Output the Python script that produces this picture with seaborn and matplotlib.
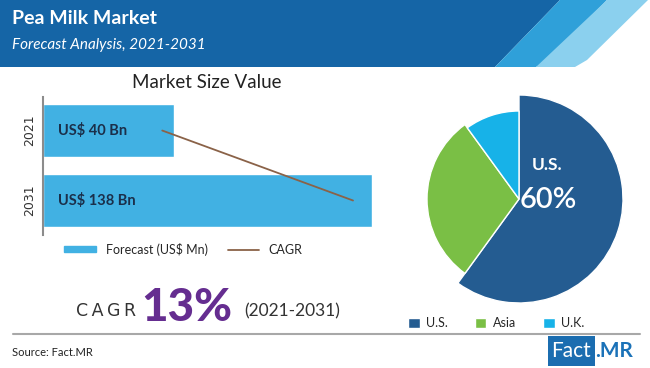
import numpy as np
import pandas as pd
import seaborn as sns
import matplotlib.pyplot as plt
from matplotlib.patches import Polygon, Rectangle, Patch
from matplotlib.lines import Line2D

sns.set_theme(style="white")
plt.rcParams['font.family'] = ['Lato', 'DejaVu Sans']

# data
years = ['2021', '2031']
bar_len = [55, 138]            # drawn bar length (US$ Bn scale of the 2031 bar)
bar_labels = ['US$ 40 Bn', 'US$ 138 Bn']
cagr_x = [50, 130]
regions = ['U.S.', 'Asia', 'U.K.']
shares = [60, 30, 10]
region_radius = [104, 92, 88]

bar_blue = '#41b1e3'
cagr_brown = '#8a6248'
pie_colors = ['#245c91', '#7abf45', '#17b2e8']

W, H = 650, 368
fig = plt.figure(figsize=(6.5, 3.68), dpi=100)

# background / decoration layer in pixel coords
bg = fig.add_axes([0, 0, 1, 1])
bg.set_xlim(0, W)
bg.set_ylim(H, 0)
bg.axis('off')
bg.add_patch(Polygon([(0, 0), (560, 0), (495, 67), (0, 67)], color='#1565a6', lw=0))
bg.add_patch(Polygon([(560, 0), (607, 0), (548, 60), (536, 67), (495, 67)], color='#2fa0d9', lw=0))
bg.add_patch(Polygon([(607, 0), (648, 0), (587, 60), (575, 67), (536, 67)], color='#8bd0ee', lw=0))
bg.text(12, 18, 'Pea Milk Market', color='white', fontsize=14, fontweight='bold', va='center')
bg.text(12, 45, 'Forecast Analysis, 2021-2031', color='white', fontsize=11, style='italic', va='center')
bg.text(207, 83, 'Market Size Value', color='#222222', fontsize=13.5, ha='center', va='center')

bg.text(76, 311, 'C\u2009A\u2009G\u2009R', color='#333333', fontsize=12.5, va='center',
        family=['DejaVu Sans'])
bg.text(187, 308, '13%', color='#652d90', fontsize=33, fontweight='black', va='center',
        ha='center')
bg.text(244, 311, '(2021-2031)', color='#333333', fontsize=12.5, va='center')
bg.plot([13, 640], [334, 334], color='#a8a8a8', lw=1.5)
bg.text(12, 352, 'Source: Fact.MR', color='#222222', fontsize=8, va='center')
bg.add_patch(Rectangle((548, 336), 47, 30, color='#1b6db0', lw=0))
bg.text(571, 351, 'Fact', color='white', fontsize=15, ha='center', va='center')
bg.text(595, 351, '.MR', color='#1b72b8', fontsize=15, fontweight='bold', va='center')

# bar chart
ax = fig.add_axes([43 / W, 1 - 235 / H, 347 / W, 138 / H])
df = pd.DataFrame({'year': years, 'value': bar_len})
sns.barplot(data=df, x='value', y='year', orient='h', color=bar_blue, saturation=1,
            width=0.757, ax=ax)
ax.plot(cagr_x, [0, 1], color=cagr_brown, lw=1.3)
ax.set_xlim(0, 145.5)
ax.set_ylim(1.493, -0.479)
for i, lab in enumerate(bar_labels):
    ax.text(6.3, i, lab, color='#1b2f4a', fontsize=10.5, fontweight='bold', va='center')
ax.set_xlabel('')
ax.set_ylabel('')
ax.set_xticks([])
ax.set_yticks([0, 1])
ax.set_yticklabels(years, rotation=90, va='center', fontsize=9, color='#333333',
                   family=['DejaVu Sans'])
ax.tick_params(axis='y', length=0, pad=5)
ax.set_facecolor('none')
for s in ['top', 'right', 'bottom']:
    ax.spines[s].set_visible(False)
ax.spines['left'].set_color('#8c8c8c')
ax.spines['left'].set_linewidth(1.5)
handles = [Patch(color=bar_blue), Line2D([], [], color=cagr_brown, lw=1.3)]
ax.legend(handles, ['Forecast (US$ Mn)', 'CAGR'], ncol=2, frameon=False, fontsize=9,
          loc='center left', bbox_to_anchor=(10 / 347, -14 / 138), handlelength=2.5,
          handleheight=0.4, columnspacing=1.6, handletextpad=0.8)

# pie chart
pax = fig.add_axes([409 / W, 1 - 309 / H, 220 / W, 220 / H])
wedges, _ = pax.pie(shares, colors=pie_colors, startangle=90, counterclock=False,
                    radius=104, wedgeprops=dict(edgecolor='white', linewidth=1))
for w, r in zip(wedges, region_radius):
    w.set_radius(r)
pax.set_xlim(-110, 110)
pax.set_ylim(-110, 110)
pax.set_aspect('equal')
pax.text(28, 34, 'U.S.', color='white', fontsize=12.5, fontweight='bold', ha='center', va='center')
pax.text(29, -1, '60%', color='white', fontsize=21, fontweight='semibold', ha='center', va='center')
pax.legend(wedges, regions, ncol=3, frameon=False, fontsize=9, loc='center left',
           bbox_to_anchor=(-12 / 220, (309 - 323) / 220), handlelength=0.9, handleheight=0.9,
           columnspacing=2.2, handletextpad=0.5)

fig.savefig('out.png', dpi=100)
